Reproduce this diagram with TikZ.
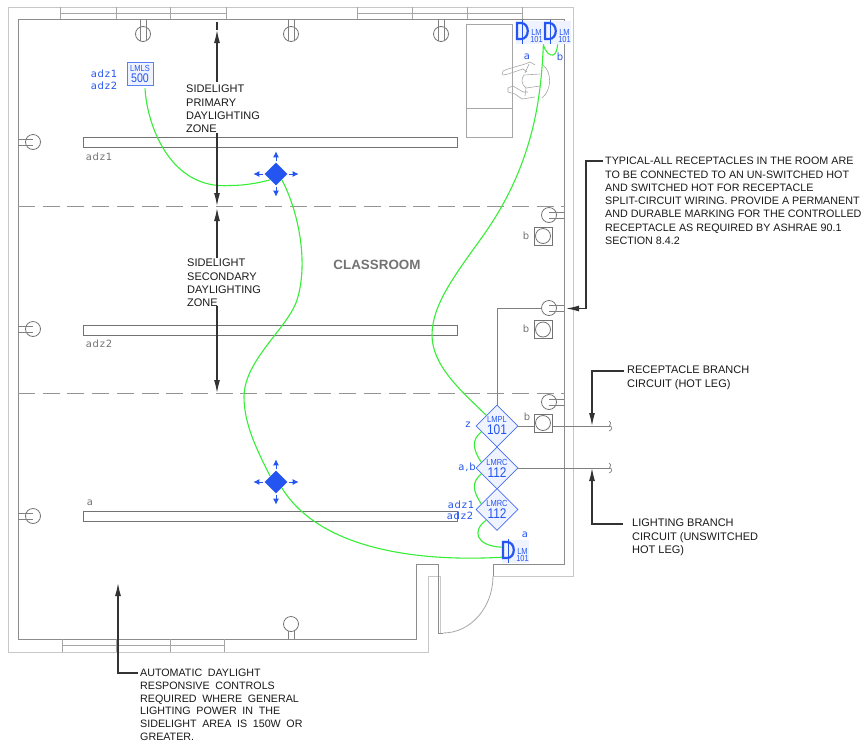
\documentclass[tikz,border=0pt]{standalone}
\usepackage{fontspec}
\setmainfont{Liberation Sans}
\newfontfamily\narrowfont[FakeStretch=0.85]{Liberation Sans}
\newfontfamily\cadfont[LetterSpace=8]{DejaVu Sans}
\newfontfamily\widefont[WordSpace=1.9]{Liberation Sans}
\usetikzlibrary{shapes.geometric, arrows.meta}
\definecolor{ctlblue}{HTML}{2455F0}
\definecolor{ctlfill}{HTML}{EFF3FF}
\definecolor{wiregreen}{HTML}{35EE35}
\newcommand{\noteface}{\fontsize{11}{13.3}\selectfont}
\newcommand{\tightnote}{\fontsize{10.75}{13.3}\selectfont}
\newcommand{\widenote}{\widefont\fontsize{10.7}{12.7}\selectfont}
\newcommand{\smalltag}{\narrowfont\fontsize{8.8}{8.8}\selectfont}
\newcommand{\dimtag}{\narrowfont\fontsize{8.8}{6.9}\selectfont}
\newcommand{\bigtag}{\narrowfont\fontsize{14}{11}\selectfont}
\newcommand{\cadtag}{\cadfont\fontsize{10}{12}\selectfont}
\tikzstyle{outerwall} = [draw=black!22, line width=1pt]
\tikzstyle{innerwall} = [draw=black!45, line width=1pt]
\tikzstyle{sash} = [draw=black!35, line width=0.8pt]
\tikzstyle{fixture} = [rectangle, draw=black!55, line width=1pt, minimum height=10pt, inner sep=0pt]
\tikzstyle{lamp} = [circle, draw=black!55, line width=0.8pt, minimum size=15pt, inner sep=0pt]
\tikzstyle{lampstem} = [draw=black!50, line width=0.8pt]
\tikzstyle{recept} = [rectangle, draw=black!55, fill=white, line width=1pt, minimum size=18pt, inner sep=0pt]
\tikzstyle{receptin} = [circle, draw=black!55, line width=0.8pt, minimum size=15pt, inner sep=0pt]
\tikzstyle{daylight} = [draw=black!42, line width=1pt, dash pattern=on 17pt off 7.7pt]
\tikzstyle{control} = [diamond, draw=ctlblue!85, fill=ctlfill, line width=0.8pt, minimum width=42pt, minimum height=42pt, inner sep=0pt, align=center, text=ctlblue]
\tikzstyle{sensor} = [diamond, fill=ctlblue, minimum width=23pt, minimum height=23pt, inner sep=0pt]
\tikzstyle{sensortip} = [draw=ctlblue, line width=1pt, -{Latex[length=6pt,width=6pt]}]
\tikzstyle{photo} = [rectangle, draw=ctlblue!75, fill=ctlfill, line width=0.8pt, minimum width=26pt, minimum height=23pt, inner sep=0pt, align=center, text=ctlblue]
\tikzstyle{dimbox} = [rectangle, fill=ctlfill, minimum width=27pt, minimum height=23pt, inner sep=0pt, anchor=north west]
\tikzstyle{blue tag} = [text=ctlblue, font=\cadtag, inner sep=0pt]
\tikzstyle{grey tag} = [text=black!55, font=\cadtag, inner sep=0pt]
\tikzstyle{note} = [anchor=north west, align=left, inner sep=0pt, text=black!90, font=\noteface]
\tikzstyle{wide note} = [anchor=north west, align=left, inner sep=0pt, text=black!90, font=\widenote]
\tikzstyle{wire} = [draw=wiregreen, line width=1.1pt]
\tikzstyle{branch} = [draw=black!50, line width=1pt]
\tikzstyle{leader} = [draw=black!80, line width=1.2pt, -{Latex[length=13pt,width=6pt]}]
\newcommand{\lampv}[4]{
    \node [lamp] (#1) at (#2,#3) {};
    \draw [lampstem] ([xshift=-3pt]#2,#4) -- ([xshift=-3pt]#2,#3+7) ([xshift=3pt]#2,#4) -- ([xshift=3pt]#2,#3+7);
}
\newcommand{\lamph}[4]{
    \node [lamp] (#1) at (#2,#3) {};
    \draw [lampstem] (#4,#3-3) -- (#2,#3-3) (#4,#3+3) -- (#2,#3+3);
}
\newcommand{\socket}[3]{
    \node [recept] (#1) at (#2,#3) {};
    \node [receptin] at (#1) {};
}
\newcommand{\dimmer}[3]{
    \begin{scope}[shift={(#2,#3)}]
        \node [dimbox] (#1) at (-1,-2) {};
        \draw [draw=ctlblue, line width=2.2pt] (0,0) -- (4,0) .. controls (13,0) and (13,16) .. (4,16) -- (0,16) -- cycle;
        \draw [draw=ctlblue, line width=1pt] (5,-3) -- (5,21);
        \node [text=ctlblue, font=\dimtag, align=center, inner sep=0pt] at (19.5,13.2) {LM\\101};
    \end{scope}
}
\newcommand{\sensortips}[1]{
    \draw [sensortip] ([yshift=1pt]#1.north) -- ++(0,-10);
    \draw [sensortip] ([yshift=-1pt]#1.south) -- ++(0,10);
    \draw [sensortip] ([xshift=-1pt]#1.west) -- ++(-10,0);
    \draw [sensortip] ([xshift=1pt]#1.east) -- ++(10,0);
}
\begin{document}
\begin{tikzpicture}[x=1pt, y=-1pt]
    \useasboundingbox (0,0) rectangle (864,745);
    \path [outerwall] (493,564) -- (493,576) -- (573,576) -- (573,7) -- (8,7) -- (8,652) -- (428,652) -- (428,576) -- (440,576) -- (440,633);
    \path [innerwall] (493,576) -- (493,564) -- (564,564) -- (564,19) -- (18,19) -- (18,639) -- (416,639) -- (416,564) -- (438,564) -- (438,633) -- (443,633);
    \path [sash] (443,633) arc (90:0:50 and 57);
    \path [sash] (60,7) -- (60,19) (116,7) -- (116,19) (170,7) -- (170,19) (226,7) -- (226,19) (60,13.5) -- (226,13.5);
    \path [sash] (357,7) -- (357,19) (412,7) -- (412,19) (467,7) -- (467,19) (522,7) -- (522,19) (357,13.5) -- (522,13.5);
    \path [sash] (62,639) -- (62,652) (116,639) -- (116,652) (170,639) -- (170,652) (224,639) -- (224,652) (62,645.5) -- (224,645.5);
    \path [sash] (466,24) rectangle (512,137) (466,108) -- (512,108);
    \path [sash, line width=0.6pt] (503,71) -- (508,69) -- (525,64) -- (530,62) -- (535,65) (503,75) -- (508,74) -- (523,69) -- (527,72);
    \path [sash, line width=0.6pt] (503,71) -- (502,75) (540,74) -- (524,75) .. controls (521,79) and (521,84) .. (526,88) -- (540,86) (525,73) -- (529,64);
    \path [sash, line width=0.6pt] (508,88) -- (513,86) -- (523,92) -- (528,92) (508,88) -- (508,92) -- (515,94) -- (522,99) -- (535,97) (526,88) -- (525,96);
    \path [sash, line width=0.6pt] (543,65) .. controls (552,72) and (552,90) .. (542,98);
    \lampv{lampa}{143}{34}{19}
    \lampv{lampb}{291}{34}{19}
    \lampv{lampc}{441}{34}{19}
    \lampv{lampd}{291}{624}{639}
    \lamph{lampe}{33}{142}{18}
    \lamph{lampf}{33}{329}{18}
    \lamph{lampg}{33}{516}{18}
    \lamph{lamph}{549}{215}{564}
    \lamph{lampi}{549}{308}{564}
    \lamph{lampj}{549}{402}{564}
    \node [fixture, minimum width=374pt] (adzone) at (270,142) {};
    \node [fixture, minimum width=374pt] (adztwo) at (270,330) {};
    \node [fixture, minimum width=374pt] (adza) at (270,516) {};
    \node [grey tag] at (99,157) {adz1};
    \node [grey tag] at (99,344) {adz2};
    \node [grey tag] at (90,503) {a};
    \path [daylight] (18,206) -- (564,206);
    \path [daylight] (18,393) -- (564,393);
    \node [control] (lmpl) at (497,426) {{\smalltag LMPL}\\{\bigtag 101}};
    \node [control, below of=lmpl, node distance=42pt] (lmrca) {{\smalltag LMRC}\\{\bigtag 112}};
    \node [control, below of=lmrca, node distance=41.5pt] (lmrcb) {{\smalltag LMRC}\\{\bigtag 112}};
    \coordinate (recend) at (610,426);
    \coordinate (ligend) at (610,468);
    \path [branch] (lmpl.east) -- (recend);
    \path [branch] (lmrca.east) -- (ligend);
    \path [branch] (lampi) -- (497,308) -- (lmpl.north);
    \draw [draw=black!50, line width=0.7pt] (609,421) .. controls (613,423) and (608,426) .. (recend) .. controls (613,427) and (612,430) .. (609,431);
    \draw [draw=black!50, line width=0.7pt] (609,463) .. controls (613,465) and (608,468) .. (ligend) .. controls (613,469) and (612,472) .. (609,473);
    \socket{socka}{543}{236}
    \socket{sockb}{543}{329.5}
    \socket{sockc}{543}{423}
    \node [grey tag] at (526,236) {b};
    \node [grey tag] at (526,329) {b};
    \node [grey tag] at (527,417) {b};
    \node [photo] (lmls) at (140,73.5) {{\smalltag LMLS}\\[-1pt]{\narrowfont\fontsize{12.5}{10}\selectfont 500}};
    \node [blue tag] at (104,74) {adz1};
    \node [blue tag] at (104,86) {adz2};
    \node [sensor] (senone) at (276,174) {};
    \node [sensor] (sentwo) at (276,482) {};
    \sensortips{senone}
    \sensortips{sentwo}
    \dimmer{dimone}{517}{23}
    \dimmer{dimtwo}{545}{23}
    \dimmer{dimdoor}{503}{542}
    \node [blue tag] at (527,57) {a};
    \node [blue tag] at (560,57) {b};
    \node [blue tag] at (525,535) {a};
    \node [blue tag] at (468,425) {z};
    \node [blue tag] at (467,467) {a,b};
    \node [blue tag] at (461,505) {adz1};
    \node [blue tag] at (460,516) {adz2};
    \path [wire] (dimone.south east) .. controls (545,52) and (550,56) .. (553,55) .. controls (556,54) and (557,50) .. (dimtwo.south);
    \path [wire] (dimone.south east) .. controls (541,95) and (535,165) .. (480,240) .. controls (455,275) and (432,305) .. (432,335) .. controls (432,365) and (460,390) .. (lmpl.north west);
    \path [wire] (lmpl.200) .. controls (472,440) and (472,448) .. (lmrca.160);
    \path [wire] (lmrca.200) .. controls (472,482) and (472,490) .. (lmrcb.160);
    \path [wire] (lmrcb.south west) .. controls (472,530) and (475,546) .. ([yshift=4.5pt]dimdoor.west);
    \path [wire] ([xshift=5pt,yshift=-3pt]lmls.south) .. controls (147,125) and (170,190) .. (230,185.5) .. controls (245,185.5) and (258,183) .. (senone.south west);
    \path [wire] (senone.south east) .. controls (298,210) and (309,262) .. (297,300) .. controls (288,328) and (244,360) .. (244,397) .. controls (244,425) and (258,452) .. (sentwo.north west);
    \path [wire] (sentwo.south east) .. controls (320,550) and (420,562) .. ([yshift=-5.5pt]dimdoor.west);
    \node [note] (primary) at (186,85) {SIDELIGHT\\PRIMARY\\DAYLIGHTING\\ZONE};
    \node [note] (secondary) at (187,259) {SIDELIGHT\\SECONDARY\\DAYLIGHTING\\ZONE};
    \node [font=\bfseries\fontsize{13.4}{15}\selectfont, text=black!55, inner sep=0pt] (room) at (377,265) {CLASSROOM};
    \coordinate (primtop) at (217,30);
    \coordinate (primbot) at (217,206);
    \coordinate (sectop) at (217,208);
    \coordinate (secbot) at (217,393);
    \path [leader] (217,82) -- (primtop);
    \draw [draw=black!80, line width=1.2pt] (primtop) -- (217,22);
    \path [leader] (217,133) -- (primbot);
    \path [leader] (217,258) -- (sectop);
    \path [leader] (217,306) -- (secbot);
    \node [wide note] (auto) at (140,669) {AUTOMATIC DAYLIGHT\\RESPONSIVE CONTROLS\\REQUIRED WHERE GENERAL\\LIGHTING POWER IN THE\\SIDELIGHT AREA IS 150W OR\\GREATER.};
    \coordinate (autotip) at (118,583);
    \path [leader] (138,673) -- (118,673) -- (autotip);
    \node [note, font=\tightnote] (typical) at (605,157) {TYPICAL-ALL RECEPTACLES IN THE ROOM ARE\\TO BE CONNECTED TO AN UN-SWITCHED HOT\\AND SWITCHED HOT FOR RECEPTACLE\\SPLIT-CIRCUIT WIRING. PROVIDE A PERMANENT\\AND DURABLE MARKING FOR THE CONTROLLED\\RECEPTACLE AS REQUIRED BY ASHRAE 90.1\\SECTION 8.4.2};
    \path [leader] (603,161) -- (586,161) -- (586,308.5) -- (566,308.5);
    \node [note] (recnote) at (627,366) {RECEPTACLE BRANCH\\CIRCUIT (HOT LEG)};
    \path [leader] (624,371) -- (592,371) -- (592,426);
    \node [note] (lignote) at (632,519) {LIGHTING BRANCH\\CIRCUIT (UNSWITCHED\\HOT LEG)};
    \path [leader] (623,524) -- (592,524) -- (592,468);
\end{tikzpicture}
\end{document}
